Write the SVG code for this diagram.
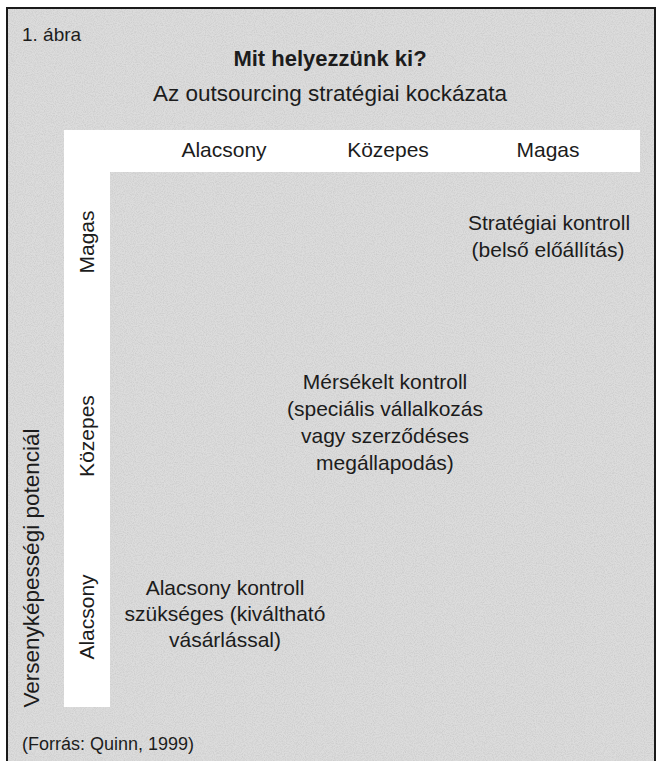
<svg xmlns="http://www.w3.org/2000/svg" width="659" height="761" viewBox="0 0 659 761">
<defs>
<style>
text{font-family:"Liberation Sans","Noto Sans",Arial,sans-serif;fill:#1c1c1c;font-size:21px}
.c{text-anchor:middle}
.b{font-weight:bold}
</style>
<filter id="noise" x="0" y="0" width="100%" height="100%">
<feTurbulence type="fractalNoise" baseFrequency="0.9" numOctaves="2" seed="3" result="n"/>
<feColorMatrix type="matrix" values="0 0 0 0 0  0 0 0 0 0  0 0 0 0 0  0 0 0 -1.2 0.75" in="n"/>
<feComposite operator="in" in2="SourceGraphic"/>
</filter>
</defs>
<g id="background">
<rect x="0" y="0" width="659" height="761" fill="#ffffff"/>
<rect x="7" y="8" width="648" height="760" fill="#dcdcdc" stroke="#1a1a1a" stroke-width="2"/>
<rect x="8" y="9" width="646" height="752" fill="#000" filter="url(#noise)" opacity="0.12"/>
</g>
<g id="band">
<path d="M64 130 H640 V172 H110 V707 H64 Z" fill="#ffffff"/>
</g>
<g id="titles">
<text x="22" y="41" style="font-size:19px">1. ábra</text>
<text class="c b" x="330" y="66" style="font-size:22px">Mit helyezzünk ki?</text>
<text class="c" x="330" y="101" style="font-size:22.5px">Az outsourcing stratégiai kockázata</text>
</g>
<g id="col-headers">
<text class="c" x="224" y="157">Alacsony</text>
<text class="c" x="388" y="157">Közepes</text>
<text class="c" x="548" y="157">Magas</text>
</g>
<g id="row-headers">
<text class="c" x="94" y="242" transform="rotate(-90 94 242)">Magas</text>
<text class="c" x="94" y="436" transform="rotate(-90 94 436)">Közepes</text>
<text class="c" x="94" y="617" transform="rotate(-90 94 617)">Alacsony</text>
<text class="c" x="39" y="568" transform="rotate(-90 39 568)" style="font-size:22.5px">Versenyképességi potenciál</text>
</g>
<g id="cell-high">
<text class="c" x="549" y="230">Stratégiai kontroll</text>
<text class="c" x="548" y="257">(belső előállítás)</text>
</g>
<g id="cell-medium">
<text class="c" x="385" y="389">Mérsékelt kontroll</text>
<text class="c" x="385" y="416">(speciális vállalkozás</text>
<text class="c" x="385" y="443">vagy szerződéses</text>
<text class="c" x="385" y="470">megállapodás)</text>
</g>
<g id="cell-low">
<text class="c" x="225" y="595">Alacsony kontroll</text>
<text class="c" x="225" y="621">szükséges (kiváltható</text>
<text class="c" x="225" y="647">vásárlással)</text>
</g>
<g id="source">
<text x="22" y="750" style="font-size:18px">(Forrás: Quinn, 1999)</text>
</g>
</svg>
